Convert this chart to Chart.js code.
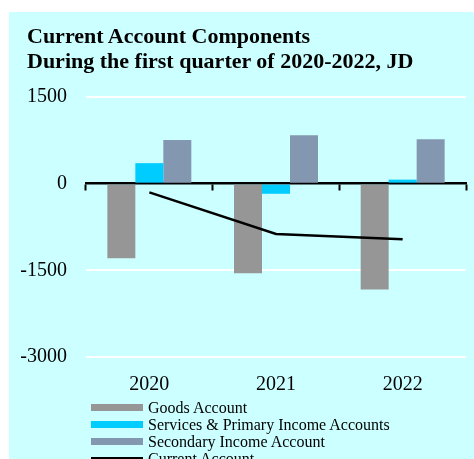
<!DOCTYPE html>
<html>
<head>
<meta charset="utf-8">
<script src="https://cdn.jsdelivr.net/npm/chart.js@4/dist/chart.umd.min.js"></script>
<style>
  html, body { margin: 0; padding: 0; background: #fff; overflow: hidden; }
  #panel {
    position: absolute; left: 9px; top: 12px; width: 465px; height: 447px;
    background: #ccffff; overflow: hidden;
    font-family: "Liberation Serif", "Times New Roman", serif; color: #000;
  }
  #title {
    position: absolute; left: 18px; top: 11px;
    font-size: 22px; font-weight: bold; line-height: 25px; white-space: nowrap;
  }
  #chartBox { position: absolute; left: 0; top: 0; width: 465px; height: 398px; }
  #legend { position: absolute; left: 82px; top: 387px; font-size: 16px; }
  .item { display: flex; align-items: center; height: 17px; white-space: nowrap; }
  .swatch { width: 52px; margin-right: 5px; }
</style>
</head>
<body>
<div id="panel">
  <div id="chartBox"><canvas id="chart"></canvas></div>
  <div id="title">Current Account Components<br>During the first quarter of 2020-2022, JD</div>
  <div id="legend"></div>
</div>
<script>
const years = ['2020', '2021', '2022'];
const goodsAccount = [-1290, -1550, -1830];
const servicesPrimary = [355, -175, 70];
const secondaryIncome = [755, 840, 770];
const currentAccount = [-150, -870, -960];
const yTicks = [1500, 0, -1500, -3000];

const serif = '"Liberation Serif", "Times New Roman", serif';

const datasets = [
  { type: 'bar', label: 'Goods Account', data: goodsAccount, backgroundColor: '#969696', order: 1 },
  { type: 'bar', label: 'Services & Primary Income Accounts', data: servicesPrimary, backgroundColor: '#00ccff', order: 1 },
  { type: 'bar', label: 'Secondary Income Account', data: secondaryIncome, backgroundColor: '#8497b0', order: 1 },
  { type: 'line', label: 'Current Account', data: currentAccount, borderColor: '#000', borderWidth: 2.5,
    pointRadius: 0, tension: 0, fill: false, order: 0 }
];

new Chart(document.getElementById('chart'), {
  data: { labels: years, datasets: datasets },
  options: {
    responsive: true,
    maintainAspectRatio: false,
    animation: false,
    datasets: { bar: { barPercentage: 1, categoryPercentage: 0.663 } },
    layout: { padding: { left: 11, right: 8, top: 85, bottom: 5 } },
    plugins: {
      legend: { display: false },
      tooltip: { enabled: false }
    },
    scales: {
      x: {
        grid: { display: false },
        border: { display: false },
        ticks: { color: '#000', font: { family: serif, size: 20 }, padding: 8 }
      },
      // zero line with tick marks between the years
      x0: {
        type: 'category',
        position: { y: 0 },
        offset: true,
        z: 1,
        grid: { offset: true, drawOnChartArea: false, tickLength: 6, tickWidth: 2, color: '#000' },
        border: { color: '#000', width: 2.5 },
        ticks: { display: false }
      },
      y: {
        min: -3000,
        max: 1500,
        afterBuildTicks: (scale) => { scale.ticks = yTicks.map(v => ({ value: v })); },
        afterFit: (scale) => { scale.width = 66; },
        grid: {
          drawTicks: false,
          lineWidth: 2,
          color: (ctx) => ctx.tick && ctx.tick.value === 0 ? 'rgba(0,0,0,0)' : '#ffffff'
        },
        border: { display: false },
        ticks: {
          color: '#000',
          font: { family: serif, size: 20 },
          padding: 19,
          callback: (v) => String(v)
        }
      }
    }
  }
});

// legend rows under the chart
const legendBox = document.getElementById('legend');
datasets.forEach(ds => {
  const row = document.createElement('div');
  row.className = 'item';
  const sw = document.createElement('div');
  sw.className = 'swatch';
  if (ds.type === 'line') {
    sw.style.height = '3px';
    sw.style.background = ds.borderColor;
  } else {
    sw.style.height = '7px';
    sw.style.background = ds.backgroundColor;
  }
  const txt = document.createElement('span');
  txt.textContent = ds.label;
  row.appendChild(sw);
  row.appendChild(txt);
  legendBox.appendChild(row);
});
</script>
</body>
</html>
